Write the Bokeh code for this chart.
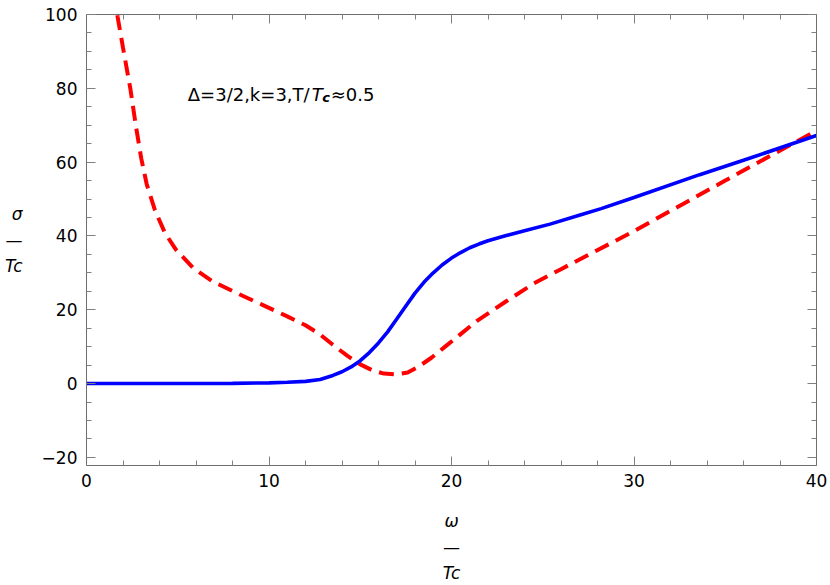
from bokeh.plotting import figure
from bokeh.models import Range1d, LinearAxis, FixedTicker, Label
from bokeh.embed import file_html
from bokeh.resources import INLINE

# ---- data ----
blue_x = [0, 4, 8, 10, 11, 12, 12.8, 13.5, 14.0, 14.5, 15.0, 15.5, 16.0, 16.5, 17.0, 17.5,
          18.0, 18.5, 19.0, 19.5, 20.0, 20.5, 21.0, 21.5, 22.0, 23.0, 24.0, 25.4, 27.0,
          28.2, 30.0, 33.6, 36.0, 40.0]
blue_y = [0, 0, 0.05, 0.2, 0.35, 0.6, 1.1, 2.2, 3.2, 4.5, 6.2, 8.4, 11.0, 14.0, 17.5, 21.0,
          24.5, 27.5, 30.0, 32.2, 34.0, 35.5, 36.8, 37.8, 38.7, 40.1, 41.4, 43.2, 45.6,
          47.4, 50.4, 56.6, 60.5, 67.2]

red_x = [1.55, 1.7, 2.0, 2.4, 2.7, 3.0, 3.3, 3.75, 4.3, 4.9, 5.85, 6.9, 8.2, 9.7, 11.0, 12.0,
         12.8, 13.5, 14.3, 15.0, 15.7, 16.3, 17.0, 17.6, 18.2, 18.9, 19.6, 20.4, 21.4, 23.0,
         24.5, 26.0, 27.2, 30.0, 32.0, 35.0, 37.5, 40.0]
red_y = [106, 99.5, 91, 80, 70, 61, 54, 47, 40.8, 36.3, 31.3, 27.7, 24.6, 21.2, 18.2, 15.8,
         13.3, 10.5, 7.5, 5.2, 3.5, 2.7, 2.5, 3.0, 4.6, 7.0, 9.8, 13.0, 17.0, 22.3,
         27.1, 31.0, 34.1, 41.3, 46.8, 55.0, 61.8, 68.5]

x_major_ticks = [0, 10, 20, 30, 40]
x_minor_ticks = [2, 4, 6, 8, 12, 14, 16, 18, 22, 24, 26, 28, 32, 34, 36, 38]
y_major_ticks = [-20, 0, 20, 40, 60, 80, 100]
y_minor_ticks = [-15, -10, -5, 5, 10, 15, 25, 30, 35, 45, 50, 55, 65, 70, 75, 85, 90, 95]

x_axis_label = "ω\n—\nTc"
y_axis_label = "σ\n—\nTc"
annotation_main = "Δ=3/2,k=3,T/"
annotation_tail = "≈0.5"

FONT = "DejaVu Sans"
FRAME = "#6e6e6e"
TICK = "#808080"

p = figure(width=830, height=585, x_range=Range1d(0, 40), y_range=Range1d(-22.2, 100),
           output_backend="svg", toolbar_location=None,
           min_border_left=86, min_border_right=14, min_border_top=14, min_border_bottom=120)
p.outline_line_color = None
p.xgrid.visible = False
p.ygrid.visible = False
p.background_fill_color = "white"
p.border_fill_color = "white"

p.add_layout(LinearAxis(), "above")
p.add_layout(LinearAxis(), "right")

for ax in p.xaxis:
    ax.ticker = FixedTicker(ticks=x_major_ticks, minor_ticks=x_minor_ticks)
for ax in p.yaxis:
    ax.ticker = FixedTicker(ticks=y_major_ticks, minor_ticks=y_minor_ticks)

for ax in p.xaxis + p.yaxis:
    ax.axis_line_color = FRAME
    ax.axis_line_width = 1
    ax.major_tick_line_color = TICK
    ax.minor_tick_line_color = TICK
    ax.major_tick_in = 9
    ax.major_tick_out = 0
    ax.minor_tick_in = 5
    ax.minor_tick_out = 0
    ax.major_label_text_font = FONT
    ax.major_label_text_font_size = "17px"
    ax.major_label_text_color = "black"
    ax.major_label_standoff = 8

top = p.above[0]
right = p.right[0]
top.major_label_overrides = {t: "" for t in x_major_ticks}
right.major_label_overrides = {t: "" for t in y_major_ticks}
top.major_label_standoff = 0
right.major_label_standoff = 0

bottom = p.below[0]
left = p.left[0]
left.major_label_standoff = 9

for ax, lbl in ((bottom, x_axis_label), (left, y_axis_label)):
    ax.axis_label = lbl
    ax.axis_label_text_font = FONT
    ax.axis_label_text_font_size = "17px"
    ax.axis_label_text_font_style = "italic"
    ax.axis_label_text_color = "black"
    try:
        ax.axis_label_text_line_height = 1.3
    except Exception:
        pass
bottom.axis_label_standoff = 21
left.axis_label_standoff = 16
try:
    left.axis_label_orientation = "horizontal"
except Exception:
    pass

p.line(red_x, red_y, line_color="#ff0000", line_width=4, line_dash="15 8")
p.line(blue_x, blue_y, line_color="#0000ff", line_width=3.6)

def lab(x, y, text, size, style="normal"):
    p.add_layout(Label(x=x, y=y, text=text, text_font=FONT, text_font_size=size,
                       text_font_style=style, text_align="left", text_baseline="alphabetic",
                       text_color="black"))

lab(5.55, 78.2, annotation_main, "18px")
lab(12.34, 78.2, "T", "18px", "italic")
lab(12.92, 77.4, "c", "13px", "bold italic")
lab(13.38, 78.2, annotation_tail, "18px")

open("out.html", "w").write(file_html(p, INLINE))
